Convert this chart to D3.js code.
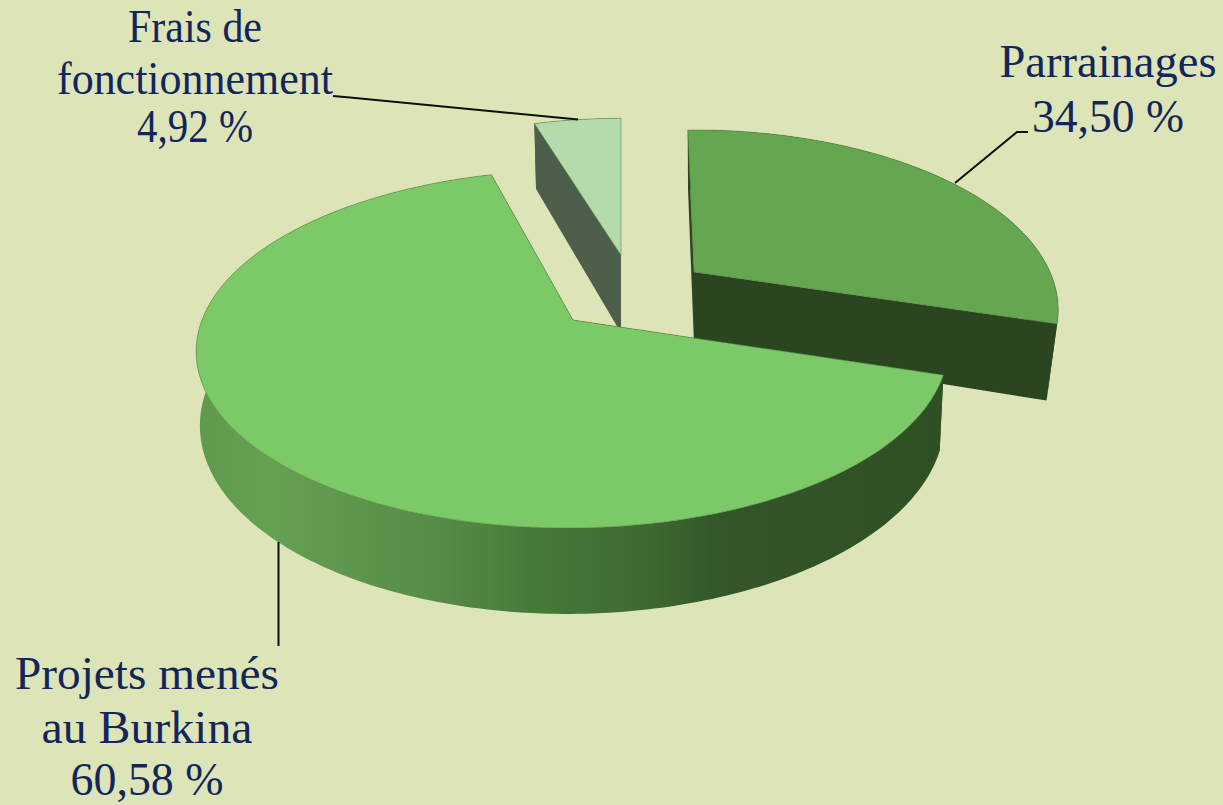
<!DOCTYPE html>
<html>
<head>
<meta charset="utf-8">
<script src="https://cdnjs.cloudflare.com/ajax/libs/d3/7.8.5/d3.min.js"></script>
<style>
html, body { margin: 0; padding: 0; background: #dde5b8; overflow: hidden; }
svg { display: block; }
text { font-family: "Liberation Serif", serif; font-size: 46px; fill: #12265b; text-anchor: middle; }
</style>
</head>
<body>
<div id="chart"></div>
<script>
const categories = ["Parrainages", "Projets menés au Burkina", "Frais de fonctionnement"];
const values = [34.5, 60.58, 4.92];
const labelLines = [["Parrainages"], ["Projets menés", "au Burkina"], ["Frais de", "fonctionnement"]];

const width = 1223;
const height = 805;

// one projection per exploded slice: apex on screen, half axes, perspective, wall height
const sliceViews = [
	{ ax: 694, ay: 272, A: 356, B: 172, k: 0.211, H: 72, shrink: 0.03, skew: 0, turn: 0, top: "#65a651", wall: "#2b4520" },
	{ ax: 573, ay: 320, A: 371, B: 174.3, k: 0.162, H: 72, shrink: 0.01, skew: -5, turn: 1, top: "#7bc967", wall: "url(#rim)" },
	{ ax: 621, ay: 255, A: 345, B: 164, k: 0.2, H: 78, shrink: 0.02, skew: 0, turn: -0.9, top: "#b5dbab", wall: "#4d5f4a" }
];

// label boxes: centre, baselines and measured widths of each line
const labelViews = [
	{ x: 1108, y: [77, 132], w: [217, 152] },
	{ x: 147, y: [689, 743, 795], w: [264, 211, 153] },
	{ x: 195, y: [42, 94, 142], w: [134, 276, 116] }
];

const leaders = [
	[[955, 183], [1017, 132], [1028, 132]],
	[[278.5, 542], [278.5, 646]],
	[[333, 96], [350, 97.5], [578, 119.5]]
];

const pie = d3.pie().sort(null).value((d) => d);
const arcs = pie(values).map((d) => ({
	start: d.startAngle * 180 / Math.PI,
	end: d.endAngle * 180 / Math.PI
}));

// the drawing is tilted, so equal pie angles do not stay equal on screen
const tilt = d3.scaleLinear()
	.domain([arcs[0].start, arcs[0].end, arcs[1].end, arcs[2].end])
	.range([-1.2, 106.5, 343.5, 360.9]);

function project(v, deg, r, depth) {
	const a = deg * Math.PI / 180;
	const X = r * Math.sin(a);
	const Y = -r * Math.cos(a);
	const w = 1 - v.k * Y;
	return [
		v.ax + (v.A * X / (1 + v.shrink * depth) + v.skew * Y) / w,
		v.ay + (v.B * Y + v.H * depth) / w
	];
}

function arcPoints(v, from, to, depth) {
	const n = Math.max(2, Math.ceil(Math.abs(to - from)));
	return d3.range(n + 1).map((i) => project(v, from + (to - from) * i / n, 1, depth));
}

const line = d3.line();

const svg = d3.select("#chart")
	.append("svg")
	.attr("width", width)
	.attr("height", height);

const rim = svg.append("defs")
	.append("linearGradient")
	.attr("id", "rim")
	.attr("gradientUnits", "userSpaceOnUse")
	.attr("x1", 196)
	.attr("x2", 945)
	.attr("y1", 0)
	.attr("y2", 0);

[[0, "#5f9a4c"], [0.1, "#66a053"], [0.33, "#558b46"], [0.45, "#477a39"], [0.6, "#3e6a31"], [0.7, "#34562a"], [1, "#2f4f25"]]
	.forEach((s) => rim.append("stop").attr("offset", s[0]).attr("stop-color", s[1]));

// back slices first, the large slice covers their feet
const order = [2, 0, 1];

order.forEach((i) => {
	const v = sliceViews[i];
	const from = tilt(arcs[i].start) + v.turn;
	const to = tilt(arcs[i].end) + v.turn;
	const g = svg.append("g").attr("class", "slice").attr("data-name", categories[i]);
	const apexTop = project(v, 0, 0, 0);
	const apexBottom = project(v, 0, 0, 1);

	// cut walls
	[from, to].forEach((deg) => {
		g.append("path")
			.attr("d", line([apexTop, project(v, deg, 1, 0), project(v, deg, 1, 1), apexBottom]) + "Z")
			.attr("fill", i === 1 ? "#2d4f25" : v.wall);
	});

	// outer wall
	g.append("path")
		.attr("d", line(arcPoints(v, from, to, 0).concat(arcPoints(v, to, from, 1))) + "Z")
		.attr("fill", v.wall);

	// top face
	g.append("path")
		.attr("d", line([apexTop].concat(arcPoints(v, from, to, 0))) + "Z")
		.attr("fill", v.top)
		.attr("stroke", "#4f7a40")
		.attr("stroke-width", 0.5);
});

svg.append("g")
	.selectAll("path")
	.data(leaders)
	.enter()
	.append("path")
	.attr("d", (d) => line(d))
	.attr("fill", "none")
	.attr("stroke", "#0c0f0a")
	.attr("stroke-width", 2);

const texts = svg.append("g");

labelViews.forEach((l, i) => {
	const lines = labelLines[i].concat(values[i].toFixed(2).replace(".", ",") + " %");
	lines.forEach((t, j) => {
		texts.append("text")
			.attr("x", l.x)
			.attr("y", l.y[j])
			.attr("textLength", l.w[j])
			.attr("lengthAdjust", "spacingAndGlyphs")
			.text(t);
	});
});
</script>
</body>
</html>
